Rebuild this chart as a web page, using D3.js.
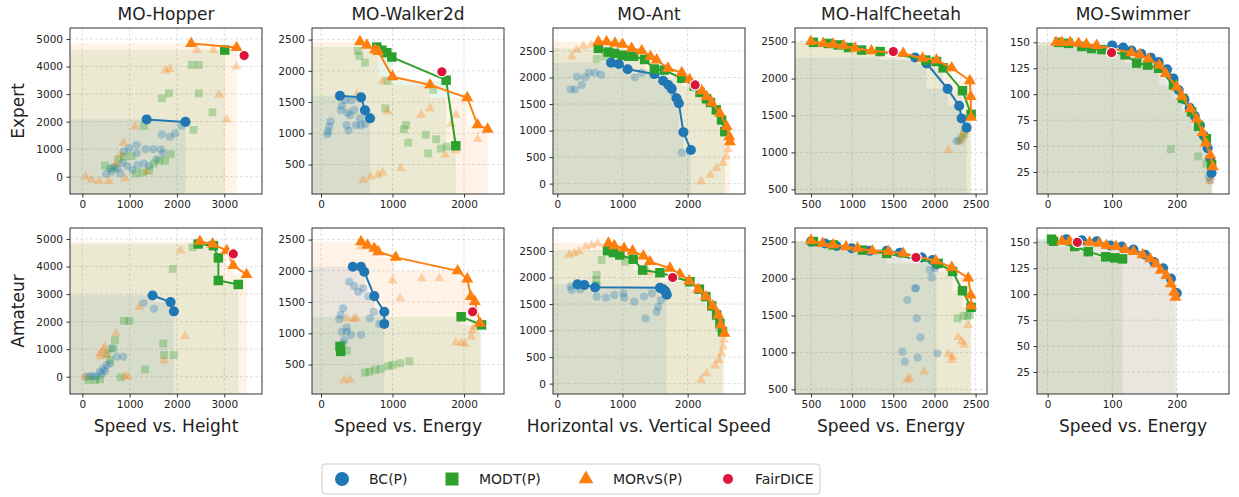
<!DOCTYPE html>
<html><head><meta charset="utf-8">
<script src="https://cdn.jsdelivr.net/npm/d3@7"></script>
<style>
body{margin:0;background:#fff;}
text{font-family:"DejaVu Sans",sans-serif;fill:#222;}
</style></head><body><div id="chart"></div>
<script>
const envs = ["MO-Hopper","MO-Walker2d","MO-Ant","MO-HalfCheetah","MO-Swimmer"];
const xLabels = ["Speed vs. Height","Speed vs. Energy","Horizontal vs. Vertical Speed","Speed vs. Energy","Speed vs. Energy"];
const rowLabels = ["Expert","Amateur"];
const xDomains = [[-260,3797],[-126,2559],[-66,2880],[306,2638],[-16.5,281]];
const yDomains = [[-628,5401],[29,2685],[-195,2933],[437,2684],[3.8,163.8]];
const xTicks = [[0,1000,2000,3000],[0,1000,2000],[0,1000,2000],[500,1000,1500,2000,2500],[0,100,200]];
const yTicks = [[0,1000,2000,3000,4000,5000],[500,1000,1500,2000,2500],[0,500,1000,1500,2000,2500],[500,1000,1500,2000,2500],[25,50,75,100,125,150]];
const legendNames = ["BC(P)","MODT(P)","MORvS(P)","FairDICE"];

// panels in order: Expert Hopper..Swimmer, then Amateur Hopper..Swimmer
const bcFront = [
  [[1360,2080],[2180,1990]],
  [[265,1600],[560,1575],[615,1370],[685,1240]],
  [[825,2280],[945,2255],[1080,2155],[1490,2065],[1625,1940],[1705,1860],[1755,1790],[1830,1610],[1865,1515],[1935,970],[2050,635]],
  [[1765,2285],[1905,2205],[2160,1860],[2300,1630],[2330,1460],[2390,1335]],
  [[100,147],[117,145],[130,142],[145,139],[160,135],[172,131],[185,124],[195,115],[203,104],[212,95],[220,87],[228,79],[236,70],[242,60],[248,48],[252,38],[254,24]],
  [[1485,2950],[1865,2710],[1935,2375]],
  [[445,2065],[560,2065],[605,1985],[745,1595],[885,1345],[885,1150]],
  [[310,1870],[415,1860],[580,1815],[1575,1805],[1625,1780],[1660,1740],[1680,1675]],
  [[500,2500],[670,2475],[810,2440],[995,2410],[1215,2375],[1420,2375],[1580,2350],[1845,2285],[1975,2250],[2025,2195]],
  [[29,153],[53,152],[76,151],[97,147],[115,146],[133,143],[151,138],[165,131],[179,125],[191,115],[200,101]]
];
const modtFront = [
  [[3010,4600]],
  [[780,2380],[850,2330],[920,2290],[990,2220],[1750,1850],[1885,800]],
  [[630,2550],[780,2480],[880,2455],[1000,2420],[1100,2400],[1170,2400],[1340,2340],[1490,2160],[1640,2140],[1910,1985],[2100,1840],[2190,1720],[2290,1600],[2350,1530],[2440,1390],[2520,1200],[2570,980]],
  [[530,2490],[710,2475],[830,2455],[955,2420],[1115,2385],[1340,2365],[1895,2250],[2025,2230],[2105,2145],[2340,1835],[2445,1515]],
  [[17,150],[32,149],[53,146],[68,144],[84,143],[120,138],[138,130],[155,128],[172,125],[195,109],[209,96],[223,83],[234,69],[246,57],[254,32]],
  [[2450,4820],[2770,4760],[2875,4315],[2875,3495],[3295,3350]],
  [[265,790],[275,710],null,[1960,1265],[2245,1135]],
  [[770,2505],[860,2470],[960,2425],[1165,2345],[1310,2140],[1575,2090],[2035,1920],[2180,1780],[2280,1640],[2370,1465],[2445,1295],[2495,1135],[2535,980]],
  [[530,2500],[770,2455],[1125,2385],[1420,2340],[2045,2205],[2220,2095],[2340,1835],[2445,1610]],
  [[6,153],[9,151],[42,146],[63,141],[90,136],[104,135],[116,134]]
];
const morvsFront = [
  [[2300,4840],[3260,4690]],
  [[545,2465],[640,2410],[755,2335],[800,2310],[1000,1905],[1525,1775],[2045,1570],[2190,1135],[2330,1065]],
  [[630,2675],[755,2675],[885,2645],[1000,2625],[1140,2550],[1295,2505],[1430,2395],[1525,2330],[1700,2175],[1910,2090],[2030,1960],[2215,1750],[2290,1640],[2370,1525],[2495,1325],[2600,1075],[2640,885],[2650,790]],
  [[500,2500],[650,2475],[770,2465],[895,2445],[1035,2410],[1235,2375],[1620,2340],[1855,2275],[2025,2250],[2210,2145],[2430,1970],[2440,1755],[2445,1475]],
  [[13,150],[22,150],[35,150],[48,149],[60,148],[76,147],[130,140],[143,138],[156,134],[173,128],[183,120],[200,107],[208,98],[221,86],[231,76],[240,63],[245,53],[252,41],[256,30]],
  [[2485,4915],[2755,4820],[3050,4580],[3190,4035],[3470,3710]],
  [[560,2465],[650,2410],[745,2360],[800,2305],[1045,2215],[1910,2000],[2045,1870],[2095,1590],[2150,1510],[2225,1160]],
  [[785,2645],[875,2600],[1025,2550],[1155,2500],[1320,2405],[1420,2300],[1730,2175],[1880,2065],[2025,1935],[2165,1780],[2280,1640],[2385,1465],[2470,1295],[2510,1105],[2565,950]],
  [[500,2515],[640,2475],[770,2455],[925,2430],[1065,2410],[1245,2375],[1440,2365],[1620,2340],[2015,2240],[2210,2150],[2410,2005],[2440,1775],[2445,1630]],
  [[22,151],[34,151],[65,150],[80,149],[91,147],[106,146],[120,143],[133,141],[147,138],[159,134],[168,129],[175,123],[184,118],[191,110],[196,102],[198,97]]
];
const fairDice = [[3420,4400],[1690,1985],[2115,1860],[1500,2365],[99,140],[3190,4460],[2120,1345],[1770,2000],[1775,2285],[46,150]];

// faint dataset points behind the fronts
const bcData = [
  [[500,100],[620,180],[740,300],[850,510],[950,390],[1060,240],[1160,420],[1300,480],[1415,390],[1570,630],[1710,850],[880,910],[990,1030],[1150,1150],[1340,1000],[1500,1000],[1660,990],[1150,850],[1680,1530],[1850,1450],[1960,1570],[2100,1840],[590,300],[690,360],[800,120]],
  [[90,985],[98,1030],[117,1110],[135,1190],[275,1370],[294,1440],[336,1530],[368,1330],[359,1130],[387,1045],[406,1290],[462,1370],[490,1130],[559,1130],[615,1150],[639,1320],[545,1240],[429,1530]],
  [[205,1775],[270,1775],[375,1860],[425,2005],[485,2090],[580,2090],[670,2050],[305,2015],[1190,2005],[1295,2090],[1910,585],[1765,1735],[1805,1640]],
  [[2270,1155],[2300,1160]],
  [[250,20],[252,17]],
  [[90,0],[160,10],[230,20],[300,0],[370,180],[445,300],[515,420],[585,480],[620,1025],[725,725],[865,725],[1290,2675],[1515,2470],[410,100],[480,200]],
  [[255,1225],[275,1295],[310,1400],[290,1025],[360,1090],[395,1825],[465,1755],[520,1665],[590,1720],[660,1595],[740,1345],[685,1240],[815,1150],[560,975],[420,975],[325,895],[305,840],[360,1025]],
  [[220,1765],[205,1830],[350,1775],[605,1640],[745,1620],[875,1670],[1015,1700],[1025,1620],[1180,1545],[1330,1640],[1450,1700],[1355,1230],[1525,1355],[1550,1450],[1590,1575]],
  [[1945,2115],[2005,2140],[1965,2015],[1765,1865],[1775,1870],[1670,1710],[1785,1460],[1830,1205],[1610,1010],[1640,875],[1795,930],[2035,985]],
  []
];
const modtData = [
  [[480,400],[640,300],[760,630],[880,730],[1040,750],[1130,120],[1280,150],[1410,220],[1510,480],[1630,580],[1750,580],[1870,820],[1300,1840],[1680,2850],[1830,3030],[2310,4060],[2460,4060],[2460,3030],[2750,2340],[2350,1700]],
  [[513,2320],[536,2240],[615,2130],[928,1840],[900,1400],[1160,1065],[1190,1135],[1220,850],[1465,975],[1500,680],[1610,905],[1675,755],[1570,1695],[1760,790]],
  [[605,2350],[730,2390],[810,2455]],
  [[2330,1200],[2360,1250]],
  [[191,47],[233,40],[246,33]],
  [[125,-120],[270,-120],[375,-95],[515,845],[690,1325],[655,1025],[880,2025],[995,2025],[810,-25],[1325,265],[1710,1205],[1725,785],[1935,785],[1910,3915],[2330,4700],[585,600]],
  [[360,725],[615,370],[675,385],[755,415],[835,430],[940,475],[1000,495],[1105,520],[1235,555],[280,795]],
  [[605,1860],[595,1955],[605,2050],[680,2330],[1040,2300],[2495,1045]],
  [[2280,1460],[2350,1495],[2430,1505],[2400,1490]],
  []
];
const morvsData = [
  [[70,0],[200,-120],[360,-160],[560,-160],[900,-60],[1360,180],[870,1240],[800,790],[1110,1820],[1760,3850],[1850,3910],[2420,4600],[2770,4600],[2890,2970],[3050,2080],[3260,4000],[720,480]],
  [[590,255],[695,305],[800,335],[860,370],[860,1830],[930,1350],[1115,440],[1400,1295],[1525,1400],[1820,1150],[1885,1295],[1885,725],[1735,655],[2190,905],[500,1615]],
  [[220,2395],[295,2520],[400,2595],[525,2615],[2205,40],[2345,165],[2445,290],[2545,385],[2590,510],[2620,645],[2635,775]],
  [[2170,1030],[2310,1145],[2340,1210],[2360,1280],[2380,1330]],
  [[251,16],[253,20]],
  [[375,845],[445,965],[480,1085],[515,785],[710,1565],[1205,2530],[2075,4580],[2170,1470],[1725,580],[900,0],[960,0],[375,725],[60,0]],
  [[325,245],[405,255],[460,1225],[360,1240],[1105,1560],[1000,1845],[1410,1880],[1655,1880],[560,2385],[1885,850],[1965,850],[2015,830],[2105,945],[2120,1045],[2145,1105],[490,1240]],
  [[180,2425],[260,2455],[335,2490],[435,2580],[525,2615],[620,2645],[1395,2100],[2205,70],[2290,195],[2420,340],[2480,445],[2520,570],[2545,695],[2555,825]],
  [[2410,1370],[2290,1205],[2330,1145],[2360,1100],[2170,975],[2210,895],[2220,940],[1875,740],[1670,625],[1700,650]],
  []
];

const colLeft = [70, 312, 553, 795, 1037], rowTop = [28, 228];
const pw = 192, ph = 166;

const methods = [
  {color:"#1f77b4", sym:d3.symbolCircle,   front:bcFront,    data:bcData,    fs:80, ds:52},
  {color:"#2ca02c", sym:d3.symbolSquare,   front:modtFront,  data:modtData,  fs:90, ds:62},
  {color:"#ff7f0e", sym:d3.symbolTriangle, front:morvsFront, data:morvsData, fs:62, ds:42}
];

const svg = d3.select("#chart").append("svg")
  .attr("width", 1239).attr("height", 497);

// dominated region of a front, as a staircase from the lower-left corner
function stair(pts, x, y) {
  let p = pts.filter(d => d).slice().sort((a,b) => a[0]-b[0]);
  let n = p.length, suf = [], m = -Infinity;
  for (let k = n-1; k >= 0; k--) { m = Math.max(m, p[k][1]); suf[k] = m; }
  let x0 = x.domain()[0], y0 = y.domain()[0];
  let v = [[x0,y0],[x0,suf[0]]];
  for (let k = 0; k < n; k++) {
    v.push([p[k][0], suf[k]]);
    v.push([p[k][0], k+1 < n ? suf[k+1] : y0]);
  }
  return "M" + v.map(d => x(d[0]) + "," + y(d[1])).join("L") + "Z";
}

for (let r = 0; r < 2; r++) {
  for (let c = 0; c < 5; c++) {
    let i = r*5 + c, L = colLeft[c], T = rowTop[r];
    let x = d3.scaleLinear().domain(xDomains[c]).range([L, L+pw]);
    let y = d3.scaleLinear().domain(yDomains[c]).range([T+ph, T]);
    let g = svg.append("g");

    g.append("clipPath").attr("id", "clip"+i)
      .append("rect").attr("x", L).attr("y", T).attr("width", pw).attr("height", ph);
    let inner = g.append("g").attr("clip-path", `url(#clip${i})`);

    // grid
    inner.selectAll("line.gx").data(xTicks[c]).enter().append("line")
      .attr("x1", d => x(d)).attr("x2", d => x(d)).attr("y1", T).attr("y2", T+ph)
      .attr("stroke", "#b0b0b0").attr("stroke-opacity", 0.5).attr("stroke-width", 0.8).attr("stroke-dasharray", "3,2");
    inner.selectAll("line.gy").data(yTicks[c]).enter().append("line")
      .attr("y1", d => y(d)).attr("y2", d => y(d)).attr("x1", L).attr("x2", L+pw)
      .attr("stroke", "#b0b0b0").attr("stroke-opacity", 0.5).attr("stroke-width", 0.8).attr("stroke-dasharray", "3,2");

    // shaded regions
    methods.forEach(m => {
      inner.append("path").attr("d", stair(m.front[i], x, y))
        .attr("fill", m.color).attr("fill-opacity", 0.1);
    });

    // faint points
    methods.forEach(m => {
      inner.selectAll(null).data(m.data[i]).enter().append("path")
        .attr("d", d3.symbol(m.sym, m.ds))
        .attr("transform", d => `translate(${x(d[0])},${y(d[1])})`)
        .attr("fill", m.color).attr("fill-opacity", 0.3);
    });

    // fronts
    methods.forEach(m => {
      let line = d3.line().defined(d => d).x(d => x(d[0])).y(d => y(d[1]));
      inner.append("path").attr("d", line(m.front[i]))
        .attr("fill", "none").attr("stroke", m.color).attr("stroke-width", 2);
      inner.selectAll(null).data(m.front[i].filter(d => d)).enter().append("path")
        .attr("d", d3.symbol(m.sym, m.fs))
        .attr("transform", d => `translate(${x(d[0])},${y(d[1])})`)
        .attr("fill", m.color);
    });

    inner.append("circle")
      .attr("cx", x(fairDice[i][0])).attr("cy", y(fairDice[i][1])).attr("r", 5.2)
      .attr("fill", "#dc143c").attr("stroke", "#fff").attr("stroke-width", 1.2);

    // frame and axes
    g.append("rect").attr("x", L).attr("y", T).attr("width", pw).attr("height", ph)
      .attr("fill", "none").attr("stroke", "#333").attr("stroke-width", 1);

    let ax = g.append("g").attr("transform", `translate(0,${T+ph})`)
      .call(d3.axisBottom(x).tickValues(xTicks[c]).tickSize(3.5).tickPadding(3.5).tickFormat(d3.format("d")));
    let ay = g.append("g").attr("transform", `translate(${L},0)`)
      .call(d3.axisLeft(y).tickValues(yTicks[c]).tickSize(3.5).tickPadding(3.5).tickFormat(d3.format("d")));
    [ax, ay].forEach(a => {
      a.select(".domain").remove();
      a.attr("color", "#333");
      a.selectAll("text").style("font-size", "10.5px");
    });

    if (r == 0) {
      g.append("text").attr("x", L + pw/2).attr("y", 20)
        .attr("text-anchor", "middle").style("font-size", "17px").text(envs[c]);
    } else {
      g.append("text").attr("x", L + pw/2).attr("y", 432)
        .attr("text-anchor", "middle").style("font-size", "17px").text(xLabels[c]);
    }
  }
}

rowLabels.forEach((t, r) => {
  svg.append("text")
    .attr("transform", `translate(24,${rowTop[r] + ph/2}) rotate(-90)`)
    .attr("text-anchor", "middle").style("font-size", "17px").text(t);
});

// legend
let leg = svg.append("g");
leg.append("rect").attr("x", 322).attr("y", 464).attr("width", 498).attr("height", 30)
  .attr("rx", 3).attr("fill", "#fff").attr("stroke", "#ccc");
let legSyms = [
  {sym:d3.symbolCircle, size:154, color:"#1f77b4"},
  {sym:d3.symbolSquare, size:169, color:"#2ca02c"},
  {sym:d3.symbolTriangle, size:95, color:"#ff7f0e"},
  {sym:d3.symbolCircle, size:78, color:"#dc143c"}
];
let legX = [342, 452, 586, 728];
legendNames.forEach((name, k) => {
  leg.append("path").attr("d", d3.symbol(legSyms[k].sym, legSyms[k].size))
    .attr("transform", `translate(${legX[k]},479)`).attr("fill", legSyms[k].color);
  leg.append("text").attr("x", legX[k] + 27).attr("y", 479).attr("dy", "0.35em")
    .style("font-size", "14px").text(name);
});
</script></body></html>
